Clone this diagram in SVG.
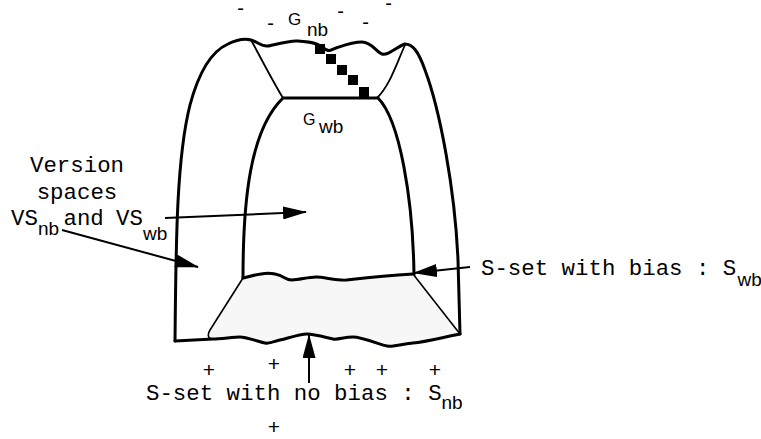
<svg xmlns="http://www.w3.org/2000/svg" width="761" height="439" viewBox="0 0 761 439">
<style>
.mono{font-family:"Liberation Mono","DejaVu Sans Mono",monospace;font-size:22.4px;fill:#000}
.sans{font-family:"Liberation Sans","Noto Sans",sans-serif;fill:#000}
.thick{fill:none;stroke:#000;stroke-width:3;stroke-linejoin:round;stroke-linecap:round}
.thin{fill:none;stroke:#000;stroke-width:1.8;stroke-linecap:round}
.arrow{fill:none;stroke:#000;stroke-width:2;marker-end:url(#ah)}
</style>
<defs>
<marker id="ah" markerUnits="userSpaceOnUse" markerWidth="24" markerHeight="13" refX="23" refY="6.5" orient="auto">
<path d="M0,0 L24,6.5 L0,13 z" fill="#000"/>
</marker>
</defs>
<rect width="761" height="439" fill="#fff"/>
<g id="outer-region">
<path class="thick" d="M175,341 C176,250 176,160 190,105 C198,75 210,52 228,44 C236,40 244,38 251,40 S262,47 268,46 S290,40 298,41 S314,41 322,47 S330,50 336,48 S352,42 362,42 S376,52 382,54 S396,47 405,44 C412,44 418,50 425,70 C440,110 455,190 458,260 L460,334"/>
<path class="thin" d="M251,40 C262,60 272,80 283,98"/>
<path class="thin" d="M405,45 C396,65 390,85 377,98"/>
<g fill="#000">
<rect x="315" y="44" width="10" height="10"/>
<rect x="326" y="54" width="10" height="10"/>
<rect x="337" y="65" width="10" height="10"/>
<rect x="348" y="75" width="10" height="10"/>
<rect x="359" y="87" width="10" height="10"/>
</g>
</g>
<g id="inner-region">
<path class="thick" d="M243,278 C243,200 250,130 283,98 L378,98 C400,120 413,200 414,275"/>
</g>
<g id="s-set-region">
<path d="M243,278 C255,275 265,272 275,274 S285,280 292,280 S308,277 316,277 S338,281 347,280 S380,276 413,274 L460,334 C440,338 425,342 413,343 S393,347 387,346 S362,337 353,337 S338,340 333,339 S314,334 307,334 S285,339 280,340 S270,344 265,343 S246,337 240,337 S220,339 213,339 C208,339 207,335 210,330 Z" fill="#f7f7f7" stroke="#000" stroke-width="1.6" stroke-linejoin="round"/>
<path class="thick" d="M460,334 C440,338 425,342 413,343 S393,347 387,346 S362,337 353,337 S338,340 333,339 S314,334 307,334 S285,339 280,340 S270,344 265,343 S246,337 240,337 S220,339 213,339 L175,341"/>
<path class="thick" d="M243,278 C255,275 265,272 275,274 S285,280 292,280 S308,277 316,277 S338,281 347,280 S380,276 413,274"/>
</g>
<g id="label-gnb">
<text class="sans" x="288" y="25" font-size="17">G</text>
<text class="sans" x="307" y="36" font-size="19">nb</text>
<g class="sans" font-size="20" text-anchor="middle">
<text x="240.5" y="15">-</text>
<text x="270.5" y="30">-</text>
<text x="340.5" y="18">-</text>
<text x="365.5" y="29">-</text>
<text x="388.5" y="10">-</text>
</g>
</g>
<g id="label-gwb">
<text class="sans" x="303" y="125" font-size="16">G</text>
<text class="sans" x="319" y="133" font-size="19">wb</text>
</g>
<g id="label-version-spaces">
<text class="mono" x="77" y="172" text-anchor="middle">Version</text>
<text class="mono" x="77" y="199" text-anchor="middle">spaces</text>
<text class="mono" x="11" y="225">VS</text>
<text class="sans" x="38" y="235" font-size="19">nb</text>
<text class="mono" x="63.5" y="225">and</text>
<text class="mono" x="116" y="225">VS</text>
<text class="sans" x="143" y="240" font-size="19">wb</text>
</g>
<g id="label-swb">
<text class="mono" x="481" y="275">S-set with bias : S</text>
<text class="sans" x="737.5" y="286" font-size="19">wb</text>
</g>
<g id="label-snb">
<text class="mono" x="146" y="400">S-set with no bias : S</text>
<text class="sans" x="441.5" y="409" font-size="19">nb</text>
</g>
<g id="plus-signs" class="sans" font-size="21" text-anchor="middle">
<text x="209" y="376.5">+</text>
<text x="274" y="370.5">+</text>
<text x="350" y="376.5">+</text>
<text x="382" y="376.5">+</text>
<text x="435" y="376.5">+</text>
<text x="274" y="434">+</text>
</g>
<g id="connectors">
<line class="arrow" x1="62" y1="230" x2="198" y2="267"/>
<line class="arrow" x1="165" y1="218" x2="306" y2="212"/>
<line class="arrow" x1="470" y1="267" x2="414" y2="273"/>
<line class="arrow" x1="309" y1="383" x2="309" y2="335"/>
</g>
</svg>
